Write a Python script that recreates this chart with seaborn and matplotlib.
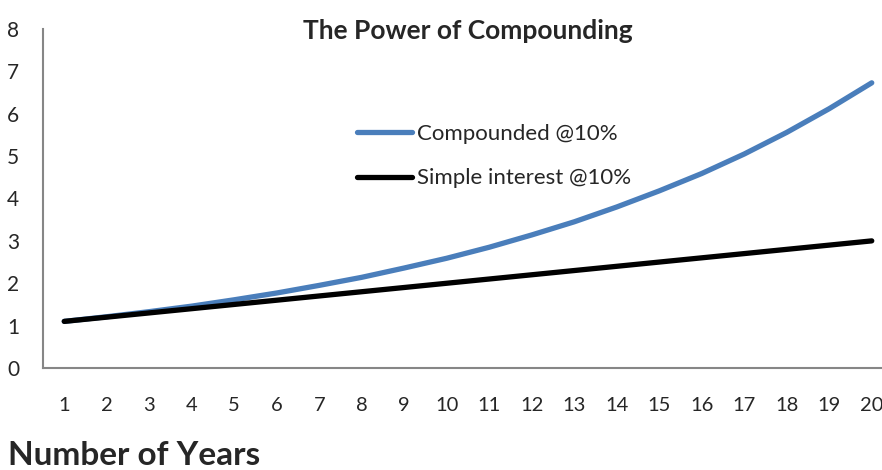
import pandas as pd
import seaborn as sns
from matplotlib import pyplot as plt

years = list(range(1, 21))
compounded = [1.10, 1.21, 1.33, 1.46, 1.61, 1.77, 1.95, 2.14, 2.36, 2.59,
              2.85, 3.14, 3.45, 3.80, 4.18, 4.59, 5.05, 5.56, 6.12, 6.73]
simple = [1.1, 1.2, 1.3, 1.4, 1.5, 1.6, 1.7, 1.8, 1.9, 2.0,
          2.1, 2.2, 2.3, 2.4, 2.5, 2.6, 2.7, 2.8, 2.9, 3.0]
labels = ['Compounded @10%', 'Simple interest @10%']

df = pd.DataFrame({'year': years * 2,
                   'value': compounded + simple,
                   'series': [labels[0]] * 20 + [labels[1]] * 20})

sns.set_style('white')
plt.rcParams['font.family'] = ['Lato', 'DejaVu Sans']

fig = plt.figure(figsize=(8.82, 4.70), dpi=100)
ax = fig.add_axes([43 / 882, 102 / 470, 850 / 882, 339 / 470])

sns.lineplot(data=df, x='year', y='value', hue='series',
             palette={labels[0]: '#4A7EBB', labels[1]: '#000000'},
             linewidth=3.8, ax=ax, solid_capstyle='round')

ax.set_xlim(0.5, 20.5)
ax.set_ylim(0, 8)
ax.set_yticks(range(0, 9))
ax.set_xticks(years)
ax.set_xticks([i + 0.5 for i in range(0, 20)], minor=True)
ax.tick_params(axis='x', which='major', length=0, pad=21, labelsize=14.5)
ax.tick_params(axis='x', which='minor', length=5, color='#868686', width=1.2, direction='out')
ax.tick_params(axis='y', length=5, color='#868686', width=1.2, direction='out', labelsize=15, pad=12)
for s in ['top', 'right']:
    ax.spines[s].set_visible(False)
for s in ['left', 'bottom']:
    ax.spines[s].set_color('#868686')
    ax.spines[s].set_linewidth(1.5)
ax.set_xlabel('')
ax.set_ylabel('')

ax.set_title('The Power of Compounding', fontsize=19, fontweight='bold', x=0.5, y=0.945)
fig.text(8 / 882, 1 - 465 / 470, 'Number of Years', fontsize=24, fontweight='bold', va='baseline')

ax.legend(loc='upper left', bbox_to_anchor=(0.369, 0.72), frameon=False, fontsize=16,
          handlelength=2.5, handletextpad=0.2, labelspacing=1.1, borderaxespad=0,
          borderpad=0)

fig.savefig('out.png', dpi=100)
